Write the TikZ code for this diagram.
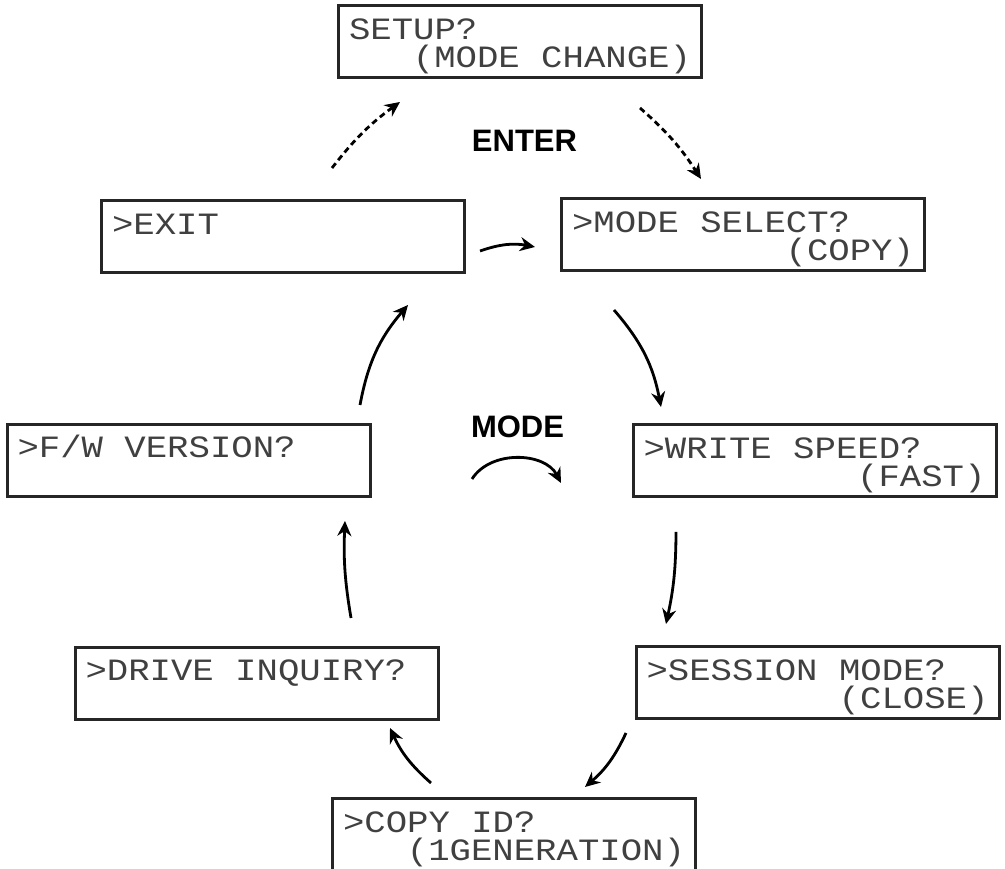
\documentclass[tikz,border=0pt]{standalone}
\usepackage{fontspec}
\newfontfamily\lcdfont[FakeStretch=1.15]{Liberation Mono}
\newfontfamily\keyfont{Liberation Sans}
\newcommand\blank{\phantom{X}}
\usetikzlibrary{arrows.meta}
\tikzset{
	display/.style={rectangle, draw=black!85, line width=3pt, minimum width=363pt, minimum height=72pt,
		text width=342pt, inner xsep=10.5pt, text height=25pt, text depth=30pt, align=left,
		text=black!75, font=\lcdfont\fontsize{31}{28}\selectfont},
	key/.style={font=\keyfont\bfseries\fontsize{31}{31}\selectfont, anchor=base},
	arrow/.style={draw, -{Stealth[length=15pt, width=14pt]}, line width=2.8pt},
	enterarrow/.style={arrow, dash pattern=on 6pt off 4pt}
}

\begin{document}
\begin{tikzpicture}[x=1pt, y=1pt]
\useasboundingbox (0,0) rectangle (1005,869);

\node[display] (setup) at (520,827)
	{SETUP?\\\hspace*{\fill}(MODE\blank CHANGE)};

\node[display] (exit) at (283,632)
	{>EXIT};

\node[display] (modeselect) at (743,634)
	{>MODE\blank SELECT?\\\hspace*{\fill}(COPY)};

\node[display] (fwversion) at (188.5,408.5)
	{>F/W\blank VERSION?};

\node[display] (writespeed) at (814.5,408)
	{>WRITE\blank SPEED?\\\hspace*{\fill}(FAST)};

\node[display] (driveinquiry) at (256.5,185.5)
	{>DRIVE\blank INQUIRY?};

\node[display] (sessionmode) at (817.5,186)
	{>SESSION\blank MODE?\\\hspace*{\fill}(CLOSE)};

\node[display] (copyid) at (514,34)
	{>COPY\blank ID?\\\hspace*{\fill}(1GENERATION)};

\node[key] (enter) at (524.5,717) {ENTER};
\node[key] (mode) at (517.5,431) {MODE};

\coordinate (enterup1) at (332,701);
\coordinate (enterup2) at (400,767);
\coordinate (enterdown1) at (640,761);
\coordinate (enterdown2) at (701,690);
\coordinate (exitout) at (480,618);
\coordinate (modeselectin) at (535,622);
\coordinate (modeselectout) at (614,559);
\coordinate (writespeedin) at (661,462);
\coordinate (writespeedout) at (676,337);
\coordinate (sessionmodein) at (666,245);
\coordinate (sessionmodeout) at (626,136);
\coordinate (copyidin) at (585,82);
\coordinate (copyidout) at (431,86);
\coordinate (driveinquiryin) at (390,141);
\coordinate (driveinquiryout) at (351,251);
\coordinate (fwversionin) at (345,348);
\coordinate (fwversionout) at (360,464);
\coordinate (exitin) at (408,564);
\coordinate (modestart) at (472,390);
\coordinate (modeend) at (561,386);

\draw [enterarrow] (enterup1) to[bend left=8] (enterup2);
\draw [enterarrow] (enterdown1) to[bend left=8] (enterdown2);
\draw [arrow] (exitout) to[bend left=15] (modeselectin);
\draw [arrow] (modeselectout) to[bend left=15] (writespeedin);
\draw [arrow] (writespeedout) to[bend left=6] (sessionmodein);
\draw [arrow] (sessionmodeout) to[bend left=12] (copyidin);
\draw [arrow] (copyidout) to[bend left=12] (driveinquiryin);
\draw [arrow] (driveinquiryout) to[bend left=6] (fwversionin);
\draw [arrow] (fwversionout) to[bend left=15] (exitin);
\draw [arrow] (modestart) to[bend left=60] (modeend);

\end{tikzpicture}
\end{document}
